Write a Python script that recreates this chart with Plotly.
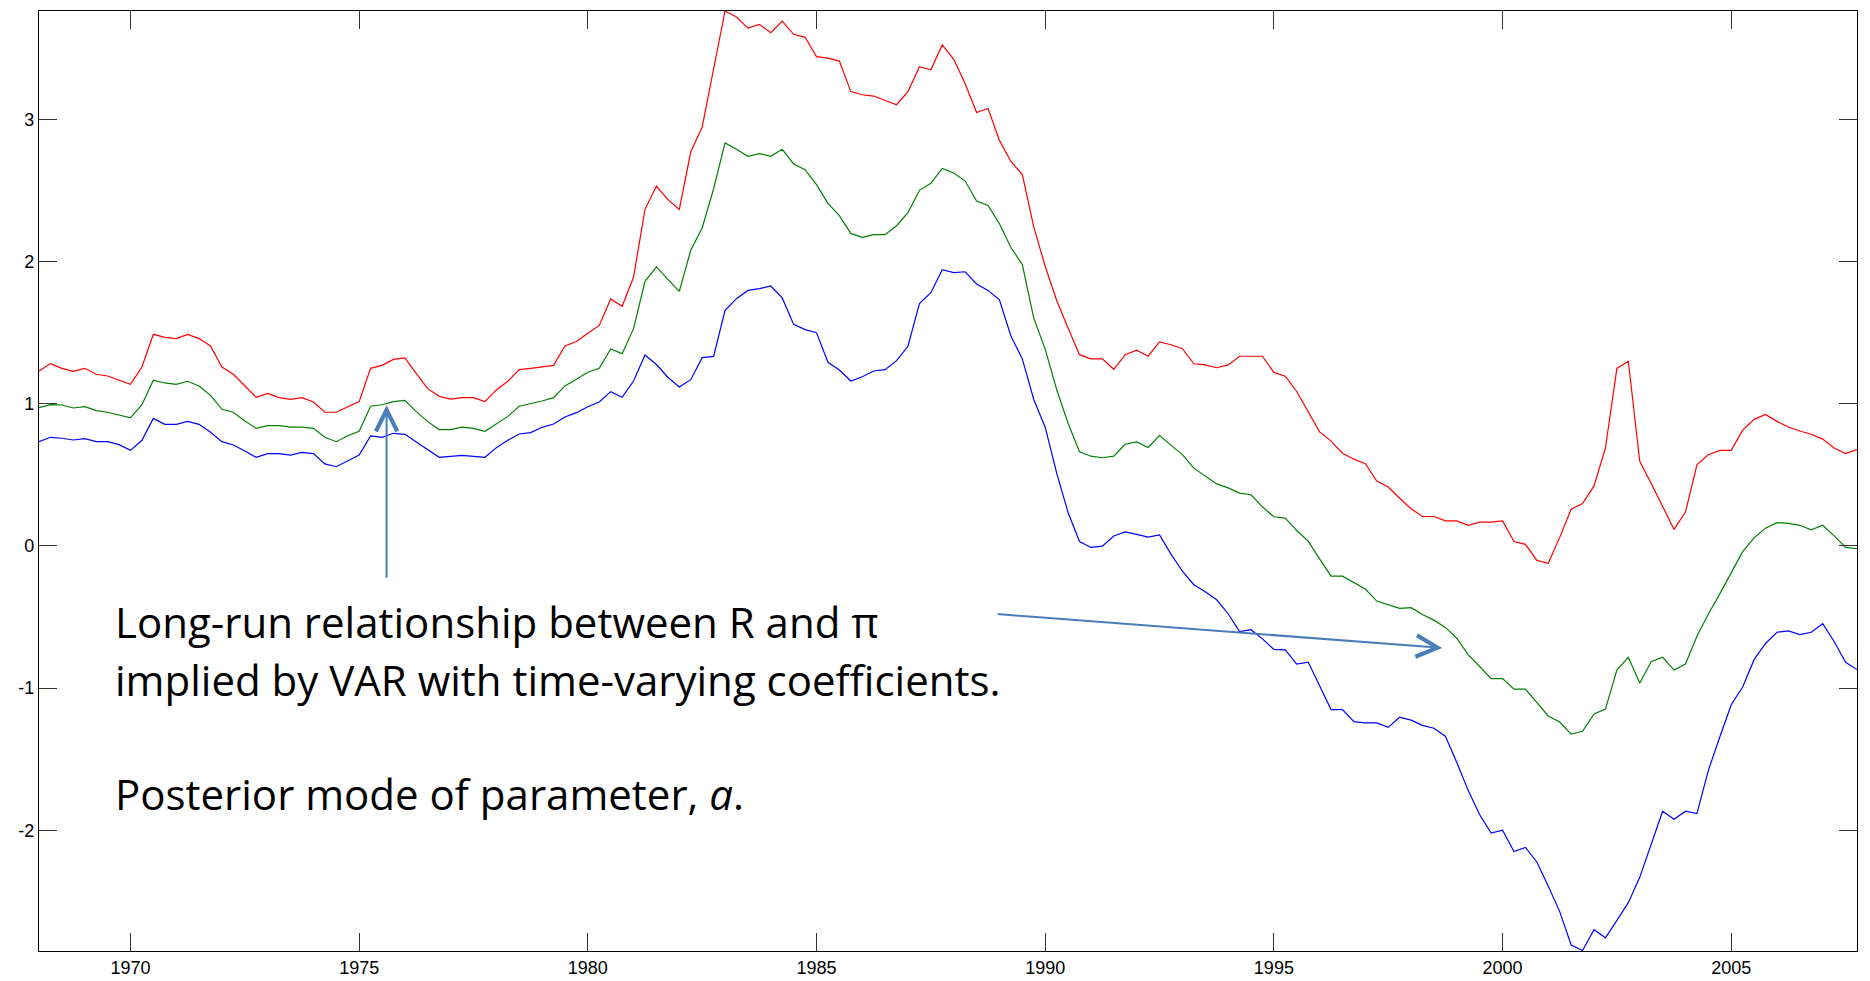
import plotly.graph_objects as go

# Quarterly observations, 1968Q1 .. 2007Q4
quarters = [1968 + q / 4 for q in range(160)]

upper_band = [
    1.230, 1.282, 1.249, 1.228, 1.249, 1.207, 1.195, 1.167, 1.136, 1.258,
    1.488, 1.467, 1.458, 1.488, 1.458, 1.406, 1.258, 1.207, 1.127, 1.045,
    1.073, 1.043, 1.031, 1.043, 1.012, 0.940, 0.940, 0.977, 1.015, 1.249,
    1.270, 1.312, 1.322, 1.211, 1.106, 1.052, 1.033, 1.043, 1.043, 1.015,
    1.097, 1.158, 1.240, 1.249, 1.258, 1.270, 1.406, 1.437, 1.495, 1.551,
    1.737, 1.685, 1.891, 2.367, 2.531, 2.435, 2.367, 2.770, 2.946, 3.354,
    3.762, 3.720, 3.642, 3.668, 3.609, 3.691, 3.598, 3.577, 3.441, 3.431,
    3.410, 3.195, 3.173, 3.164, 3.134, 3.103, 3.195, 3.370, 3.349, 3.523,
    3.422, 3.250, 3.048, 3.076, 2.852, 2.704, 2.612, 2.244, 1.965, 1.728,
    1.532, 1.345, 1.315, 1.315, 1.242, 1.345, 1.376, 1.334, 1.435, 1.415,
    1.387, 1.281, 1.273, 1.253, 1.273, 1.334, 1.334, 1.334, 1.220, 1.194,
    1.086, 0.944, 0.802, 0.737, 0.652, 0.610, 0.578, 0.456, 0.414, 0.335,
    0.261, 0.207, 0.207, 0.176, 0.176, 0.145, 0.167, 0.167, 0.176, 0.031,
    0.011, -0.102, -0.122, 0.060, 0.258, 0.298, 0.422, 0.689, 1.248, 1.299,
    0.595, 0.439, 0.278, 0.116, 0.238, 0.570, 0.641, 0.672, 0.672, 0.814,
    0.890, 0.924, 0.876, 0.836, 0.808, 0.785, 0.751, 0.689, 0.649, 0.678,
]

posterior_mode = [
    0.972, 0.993, 0.991, 0.970, 0.979, 0.951, 0.940, 0.918, 0.900, 0.993,
    1.165, 1.146, 1.136, 1.158, 1.125, 1.059, 0.961, 0.940, 0.879, 0.827,
    0.846, 0.846, 0.836, 0.836, 0.827, 0.764, 0.733, 0.775, 0.806, 0.982,
    0.993, 1.015, 1.024, 0.944, 0.874, 0.818, 0.818, 0.836, 0.827, 0.806,
    0.860, 0.911, 0.982, 1.000, 1.019, 1.043, 1.125, 1.172, 1.221, 1.249,
    1.385, 1.352, 1.528, 1.861, 1.962, 1.875, 1.790, 2.079, 2.236, 2.512,
    2.834, 2.789, 2.740, 2.759, 2.740, 2.789, 2.686, 2.646, 2.541, 2.409,
    2.323, 2.198, 2.170, 2.189, 2.189, 2.252, 2.344, 2.501, 2.550, 2.655,
    2.623, 2.566, 2.425, 2.395, 2.266, 2.099, 1.979, 1.602, 1.384, 1.100,
    0.863, 0.662, 0.631, 0.620, 0.631, 0.715, 0.731, 0.692, 0.776, 0.709,
    0.642, 0.547, 0.494, 0.436, 0.408, 0.371, 0.360, 0.275, 0.205, 0.196,
    0.108, 0.034, -0.091, -0.213, -0.213, -0.255, -0.303, -0.388, -0.411, -0.439,
    -0.434, -0.482, -0.522, -0.573, -0.649, -0.766, -0.848, -0.933, -0.933, -1.007,
    -1.007, -1.100, -1.196, -1.239, -1.324, -1.304, -1.182, -1.148, -0.873, -0.783,
    -0.964, -0.814, -0.783, -0.873, -0.831, -0.635, -0.479, -0.337, -0.193, -0.040,
    0.057, 0.125, 0.164, 0.159, 0.145, 0.113, 0.145, 0.071, -0.011, -0.020,
]

lower_band = [
    0.733, 0.764, 0.757, 0.745, 0.754, 0.733, 0.733, 0.712, 0.672, 0.743,
    0.897, 0.855, 0.855, 0.876, 0.855, 0.799, 0.733, 0.710, 0.668, 0.623,
    0.649, 0.649, 0.639, 0.658, 0.649, 0.577, 0.557, 0.600, 0.639, 0.773,
    0.764, 0.792, 0.785, 0.731, 0.677, 0.623, 0.630, 0.637, 0.630, 0.623,
    0.691, 0.743, 0.787, 0.797, 0.834, 0.857, 0.907, 0.937, 0.979, 1.012,
    1.085, 1.045, 1.160, 1.342, 1.276, 1.186, 1.118, 1.169, 1.324, 1.333,
    1.657, 1.739, 1.797, 1.809, 1.828, 1.744, 1.558, 1.521, 1.500, 1.291,
    1.237, 1.160, 1.190, 1.230, 1.240, 1.303, 1.404, 1.704, 1.781, 1.943,
    1.922, 1.928, 1.842, 1.797, 1.731, 1.477, 1.315, 1.030, 0.835, 0.514,
    0.235, 0.031, -0.011, -0.002, 0.070, 0.098, 0.081, 0.062, 0.078, -0.058,
    -0.178, -0.273, -0.323, -0.379, -0.477, -0.602, -0.589, -0.654, -0.728, -0.731,
    -0.831, -0.817, -0.984, -1.151, -1.151, -1.236, -1.245, -1.245, -1.276, -1.205,
    -1.225, -1.262, -1.282, -1.338, -1.523, -1.721, -1.891, -2.019, -1.999, -2.149,
    -2.121, -2.223, -2.393, -2.572, -2.807, -2.845, -2.699, -2.756, -2.634, -2.509,
    -2.331, -2.095, -1.866, -1.922, -1.866, -1.883, -1.579, -1.344, -1.117, -0.992,
    -0.800, -0.686, -0.607, -0.598, -0.624, -0.607, -0.547, -0.672, -0.819, -0.870,
]

x_ticks = [1970, 1975, 1980, 1985, 1990, 1995, 2000, 2005]
y_ticks = [-2, -1, 0, 1, 2, 3]

fig = go.Figure()
for series, color in [(upper_band, "#FF0000"), (posterior_mode, "#008000"), (lower_band, "#0000FF")]:
    fig.add_trace(go.Scatter(x=quarters, y=series, mode="lines",
                             line=dict(color=color, width=1.2), showlegend=False,
                             hoverinfo="skip"))

tick_font = dict(family="Liberation Sans, Arial, sans-serif", size=18, color="#000000")
axis_common = dict(showline=True, linecolor="#000000", linewidth=1.3, mirror="ticks",
                   ticks="inside", ticklen=18, tickwidth=1, tickcolor="#333333",
                   showgrid=False, zeroline=False, tickfont=tick_font, automargin=False)

fig.update_xaxes(range=[quarters[0], quarters[-1]], tickvals=x_ticks,
                 ticktext=[str(t) for t in x_ticks], **axis_common)
fig.update_yaxes(range=[-2.849, 3.762], tickvals=y_ticks,
                 ticktext=[str(t) for t in y_ticks], **axis_common)

W, H = 1870, 981
L, R, T, B = 39, 13, 11, 30
pw, ph = W - L - R, H - T - B

def px_x(px):
    return (px - L) / pw

def px_y(py):
    return (H - B - py) / ph

text_font = dict(family="Open Sans, Lato, sans-serif", size=42, color="#000000")
text_lines = [
    ("Long-run relationship between R and π", 621),
    ("implied by VAR with time-varying coefficients.", 679),
    ("Posterior mode of parameter, <i>a</i>.", 793),
]
annotations = []
for txt, py in text_lines:
    annotations.append(dict(text=txt, xref="paper", yref="paper", x=px_x(113), y=px_y(py),
                            xanchor="left", yanchor="middle", showarrow=False, font=text_font))

arrow_color = "#4A7EBB"
annotations.append(dict(text="", x=1975.6, y=0.989, xref="x", yref="y",
                        ax=0, ay=174, axref="pixel", ayref="pixel", showarrow=True,
                        arrowhead=5, arrowsize=2.1, arrowwidth=2, arrowcolor=arrow_color))
annotations.append(dict(text="", x=1998.68, y=-0.718, xref="x", yref="y",
                        ax=-446, ay=-34, showarrow=True,
                        arrowhead=5, arrowsize=2.1, arrowwidth=2, arrowcolor=arrow_color))

fig.update_layout(width=W, height=H, margin=dict(l=L, r=R, t=T, b=B, autoexpand=False),
                  paper_bgcolor="#FFFFFF", plot_bgcolor="#FFFFFF",
                  annotations=annotations, showlegend=False)

# Remove the browser's default 8px body margin so the figure fills the window exactly.
fig.write_html("out.html",
               config={"displayModeBar": False},
               post_script="document.body.style.margin='0px';"
                           "document.body.style.overflow='hidden';")
